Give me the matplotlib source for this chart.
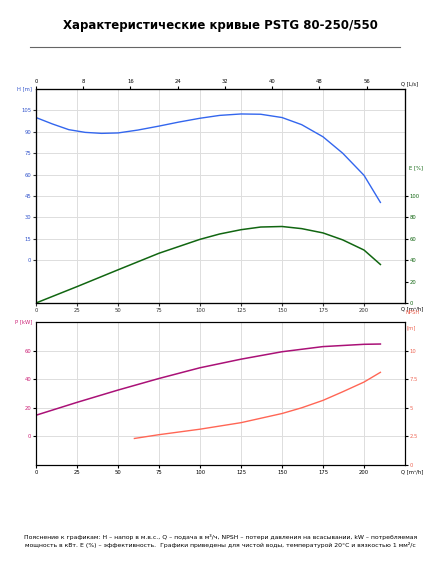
import matplotlib.pyplot as plt

plt.rcParams['font.family'] = ['DejaVu Sans']

# data (Q in m3/h)
q_h = [0, 10, 20, 30, 40, 50, 62, 75, 87, 100, 112, 125, 137, 150, 162, 175, 187, 200, 210]
head = [100, 95.5, 91.5, 89.6, 88.9, 89.2, 91.2, 94, 96.8, 99.5, 101.5, 102.5, 102.3, 100, 95, 86.5, 75, 59.5, 40.5]
q_e = [0, 25, 50, 75, 100, 112, 125, 137, 150, 162, 175, 187, 200, 210]
eff = [0, 15.3, 31, 46.5, 59.5, 64.5, 68.5, 71, 71.5, 69.5, 65.5, 59, 49.5, 36]
q_p = [0, 25, 50, 75, 100, 125, 150, 175, 200, 210]
power = [14.8, 23.8, 32.4, 40.5, 48, 54, 59.2, 62.8, 64.4, 64.6]
q_n = [60, 75, 100, 125, 150, 162, 175, 187, 200, 210]
npsh = [2.32, 2.65, 3.13, 3.7, 4.5, 5.0, 5.65, 6.4, 7.25, 8.1]

title = "Характеристические кривые PSTG 80-250/550"
note = ("Пояснение к графикам: H – напор в м.в.с., Q – подача в м³/ч, NPSH – потери давления на всасывании, kW – потребляемая\n"
        "мощность в кВт. E (%) – эффективность.  Графики приведены для чистой воды, температурой 20°C и вязкостью 1 мм²/с")

W, H = 441, 567
fig = plt.figure(figsize=(W / 100, H / 100), dpi=100)
fig.text(0.5, 1 - 25 / H, title, ha='center', va='center', fontsize=8.5, fontweight='bold')
fig.add_artist(plt.Line2D([30 / W, 400 / W], [1 - 47 / H] * 2, color='#666666', lw=0.8))
fig.text(0.5, 1 - 541 / H, note, ha='center', va='center', fontsize=4.4, linespacing=1.6)

def frac(x0, y0, x1, y1):
    return [x0 / W, 1 - y1 / H, (x1 - x0) / W, (y1 - y0) / H]

tick_kw = dict(labelsize=3.8, length=2, pad=1.5)

# upper chart
ax = fig.add_axes(frac(36, 89, 405, 303))
ax.set_xlim(0, 225)
ax.set_ylim(-30, 120)
ax.set_xticks(range(0, 201, 25))
ax.set_yticks(range(0, 106, 15))
ax.grid(color='#dddddd', lw=0.7)
ax.plot(q_h, head, color='#3366ee', lw=1)
ax.tick_params(colors='#333333', **tick_kw)
ax.tick_params(axis='y', labelcolor='#3355cc')
ax.text(-0.01, 1.0, 'H [m]', transform=ax.transAxes, ha='right', va='center', fontsize=3.8, color='#3355cc')
ax.text(0.99, -0.025, 'Q [m³/h]', transform=ax.transAxes, ha='left', va='center', fontsize=3.8)
ax2 = ax.twinx()
ax2.set_ylim(0, 200)
ax2.set_yticks(range(0, 101, 20))
ax2.plot(q_e, eff, color='#116611', lw=1.1)
ax2.tick_params(labelcolor='#116611', **tick_kw)
ax2.text(1.03, 0.63, 'E [%]', transform=ax.transAxes, ha='center', va='center', fontsize=3.8, color='#116611')
ax3 = ax.twiny()
ax3.set_xlim(0, 225 / 3.6)
ax3.set_xticks(range(0, 57, 8))
ax3.tick_params(**tick_kw)
ax3.text(0.99, 1.025, 'Q [L/s]', transform=ax.transAxes, ha='left', va='center', fontsize=3.8)
ax3.text(1.02, -0.045, 'NPSH', transform=ax.transAxes, ha='center', va='center', fontsize=3.8, color='#ee6655')

# lower chart
bx = fig.add_axes(frac(36, 322, 405, 465))
bx.set_xlim(0, 225)
bx.set_ylim(-20, 80)
bx.set_xticks(range(0, 201, 25))
bx.set_yticks(range(0, 61, 20))
bx.grid(color='#dddddd', lw=0.7)
bx.plot(q_p, power, color='#aa1177', lw=1.1)
bx.tick_params(**tick_kw)
bx.tick_params(axis='y', labelcolor='#cc2277')
bx.text(-0.01, 1.0, 'P [kW]', transform=bx.transAxes, ha='right', va='center', fontsize=3.8, color='#cc2277')
bx.text(0.99, -0.045, 'Q [m³/h]', transform=bx.transAxes, ha='left', va='center', fontsize=3.8)
bx2 = bx.twinx()
bx2.set_ylim(0, 12.5)
bx2.set_yticks([0, 2.5, 5, 7.5, 10])
bx2.set_yticklabels(['0', '2.5', '5', '7.5', '10'])
bx2.plot(q_n, npsh, color='#ff6655', lw=1)
bx2.tick_params(labelcolor='#ee6655', **tick_kw)
bx2.text(1.005, 0.96, '[m]', transform=bx.transAxes, ha='left', va='center', fontsize=3.8, color='#ee6655')

fig.savefig('out.png', dpi=100)
